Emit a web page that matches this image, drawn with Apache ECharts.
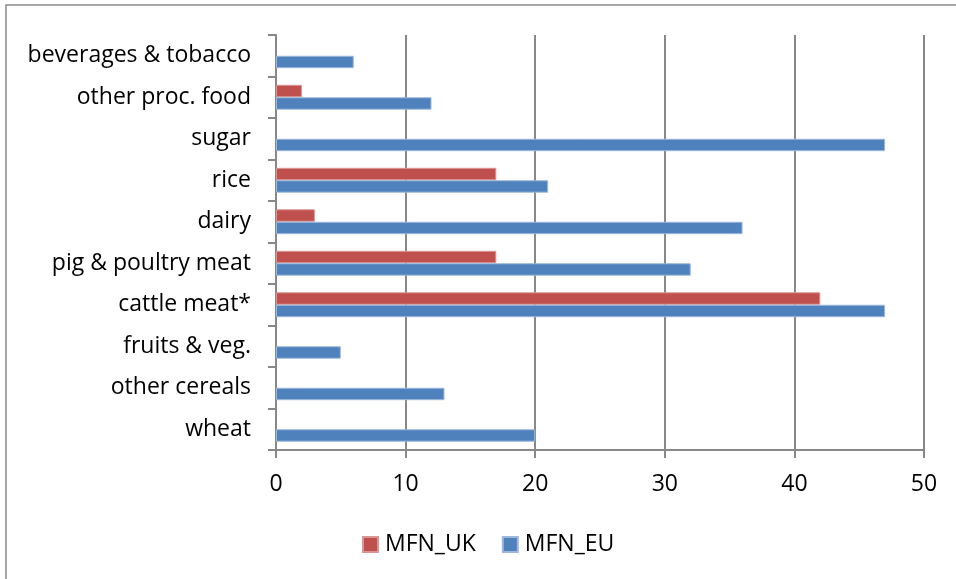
<!DOCTYPE html>
<html><head><meta charset="utf-8">
<script src="https://cdn.jsdelivr.net/npm/echarts@6/dist/echarts.min.js"></script>
<style>html,body{margin:0;padding:0;background:#fff}#c{width:956px;height:579px}</style>
</head><body><div id="c"></div>
<script>
var categories = ['wheat','other cereals','fruits & veg.','cattle meat*','pig & poultry meat','dairy','rice','sugar','other proc. food','beverages & tobacco'];
var mfnUK = [null, null, null, 42, 17, 3, 17, null, 2, null];
var mfnEU = [20, 13, 5, 47, 32, 36, 21, 47, 12, 6];
var xTicks = [0, 10, 20, 30, 40, 50];

var font = '"Open Sans", sans-serif';
var chart = echarts.init(document.getElementById('c'), null, {renderer:'canvas'});
chart.setOption({
  animation: false,
  backgroundColor: '#fff',
  grid: {left: 276, right: 32, top: 35, bottom: 129, containLabel: false},
  graphic: [{type:'rect', shape:{x:6, y:5, width:1000, height:1000}, style:{fill:'none', stroke:'#8a8a8a', lineWidth:1.5}, silent:true, z:-1}],
  legend: {
    left: 362, top: 533, padding: 0, itemWidth: 15, itemHeight: 15, itemGap: 26,
    icon: 'rect',
    textStyle: {fontFamily: font, fontSize: 23, color: '#000', padding:[0,0,0,2]},
    data: ['MFN_UK','MFN_EU']
  },
  xAxis: {
    type: 'value', min: xTicks[0], max: xTicks[xTicks.length-1], interval: 10,
    axisLine: {show: true, lineStyle: {color: '#888', width: 2}},
    axisTick: {show: true, length: 8, lineStyle: {color: '#888', width: 2}},
    splitLine: {show: true, lineStyle: {color: '#888', width: 2}},
    axisLabel: {fontFamily: font, fontSize: 23, color: '#000', margin: 23}
  },
  yAxis: {
    type: 'category', data: categories,
    axisLine: {show: true, lineStyle: {color: '#888', width: 2}},
    axisTick: {show: true, length: 8, lineStyle: {color: '#888', width: 2}},
    splitLine: {show: false},
    axisLabel: {fontFamily: font, fontSize: 23, color: '#000', margin: 25}
  },
  series: [
    {name: 'MFN_UK', type: 'bar', data: mfnUK, barGap: '0%', barCategoryGap: '40%',
     itemStyle: {color: '#C0504D', borderColor: '#d99694', borderWidth: 1}},
    {name: 'MFN_EU', type: 'bar', data: mfnEU, barGap: '0%', barCategoryGap: '40%',
     itemStyle: {color: '#4F81BD', borderColor: '#9db8dc', borderWidth: 1}}
  ]
});
</script></body></html>
